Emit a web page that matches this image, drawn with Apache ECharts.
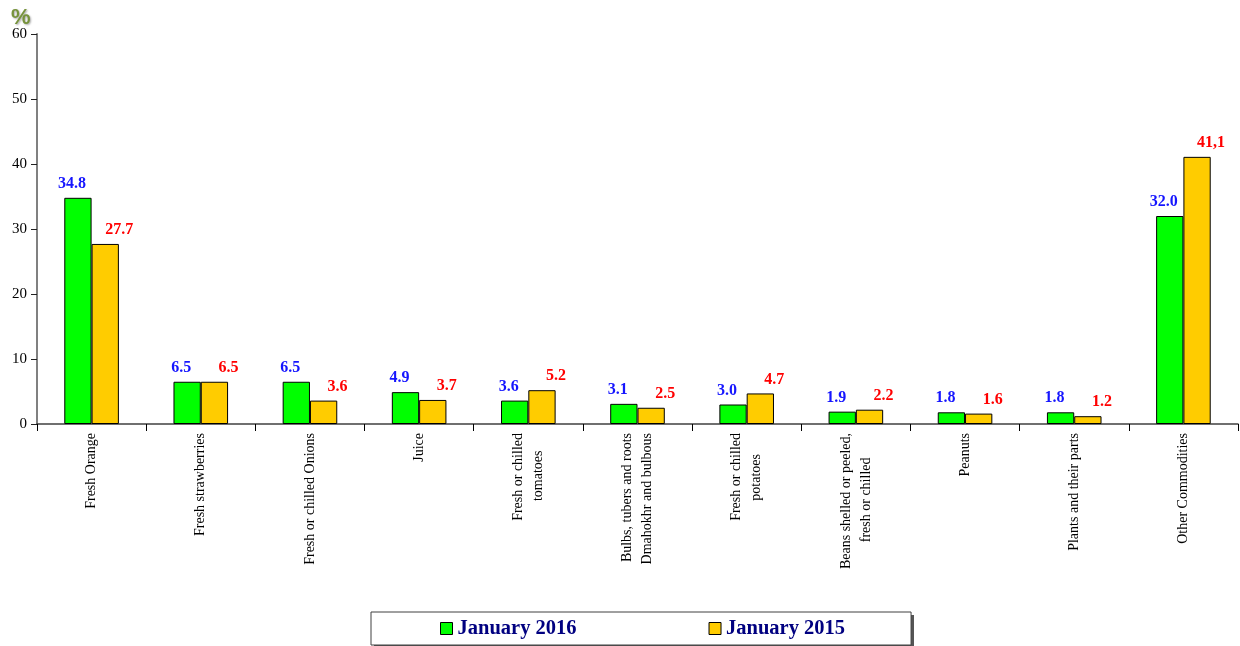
<!DOCTYPE html>
<html lang="en">
<head>
    <meta charset="UTF-8">
    <title>Exports</title>
    <script src="https://cdn.jsdelivr.net/npm/echarts@6/dist/echarts.min.js"></script>
    <style>
        * { margin: 0; padding: 0; }
        body { background-color: #fff; }
        #box1 { width: 1240px; height: 646px; }
    </style>
</head>
<body>
    <div id="box1"></div>
    <script>
        // categories (multi-line names split with \n)
        var categories = [
            'Fresh Orange',
            'Fresh strawberries',
            'Fresh or chilled Onions',
            'Juice',
            'Fresh or chilled\ntomatoes',
            'Bulbs, tubers and roots\nDmahokhr and bulbous',
            'Fresh or chilled\npotatoes',
            'Beans shelled or peeled,\nfresh or chilled',
            'Peanuts',
            'Plants and their parts',
            'Other Commodities'
        ];
        var jan2016 = [34.8, 6.5, 6.5, 4.9, 3.6, 3.1, 3.0, 1.9, 1.8, 1.8, 32.0];
        var jan2015 = [27.7, 6.5, 3.6, 3.7, 5.2, 2.5, 4.7, 2.2, 1.6, 1.2, 41.1];
        // label texts as printed on the chart
        var labels2015 = ['27.7', '6.5', '3.6', '3.7', '5.2', '2.5', '4.7', '2.2', '1.6', '1.2', '41,1'];
        var yTicks = [0, 10, 20, 30, 40, 50, 60];

        var serif = '"Liberation Serif", "Times New Roman", serif';
        var catFont = 14;

        // rotated labels come out right aligned, so push the shorter line
        // of a two-line name away from the axis with trailing nbsp's
        var ctx = document.createElement('canvas').getContext('2d');
        ctx.font = catFont + 'px "Liberation Serif"';
        var nbspW = ctx.measureText('\u00a0').width || 3.5;
        function centreLines(name) {
            var lines = name.split('\n');
            if (lines.length < 2) return name;
            var widths = lines.map(function (s) { return ctx.measureText(s).width; });
            var maxW = Math.max.apply(null, widths);
            return lines.map(function (s, j) {
                var n = Math.round((maxW - widths[j]) / 2 / nbspW);
                return s + new Array(n + 1).join('\u00a0');
            }).join('\n');
        }

        var option = {
            animation: false,
            title: {
                text: '%',
                left: 6,
                top: 2,
                textStyle: {
                    fontFamily: '"Liberation Sans", Arial, sans-serif',
                    fontSize: 22,
                    fontWeight: 'bold',
                    color: '#77933c',
                    textShadowColor: 'rgba(0,0,0,0.35)',
                    textShadowBlur: 2,
                    textShadowOffsetX: 1,
                    textShadowOffsetY: 1
                }
            },
            legend: {
                left: 371,
                top: 612,
                padding: [6, 66, 6, 69],
                itemGap: 132,
                itemWidth: 12,
                itemHeight: 12,
                icon: 'rect',
                backgroundColor: '#fff',
                borderColor: '#404040',
                borderWidth: 1,
                z: 5,
                itemStyle: { borderColor: '#000', borderWidth: 1 },
                textStyle: {
                    fontFamily: serif,
                    fontSize: 20.5,
                    fontWeight: 'bold',
                    color: '#000080'
                }
            },
            // drop shadow of the legend frame
            graphic: [{
                type: 'rect',
                left: 374,
                top: 615,
                z: 1,
                shape: { width: 540, height: 31 },
                style: { fill: '#555' }
            }],
            grid: {
                left: 37,
                right: 2,
                top: 34,
                bottom: 222
            },
            xAxis: {
                type: 'category',
                data: categories,
                axisLine: { lineStyle: { color: '#404040', width: 1.5 } },
                axisTick: { show: true, length: 7, lineStyle: { color: '#000' } },
                axisLabel: {
                    interval: 0,
                    rotate: 90,
                    margin: 9,
                    color: '#000',
                    fontFamily: serif,
                    fontSize: catFont,
                    lineHeight: 20,
                    formatter: function (v) { return centreLines(v); }
                }
            },
            yAxis: {
                type: 'value',
                min: yTicks[0],
                max: yTicks[yTicks.length - 1],
                interval: 10,
                splitLine: { show: false },
                axisLine: { show: true, lineStyle: { color: '#808080', width: 2 } },
                axisTick: { show: true, length: 6, lineStyle: { color: '#222' } },
                axisLabel: {
                    margin: 10,
                    color: '#000',
                    fontFamily: serif,
                    fontSize: 15
                }
            },
            series: [{
                name: 'January 2016',
                type: 'bar',
                data: jan2016,
                barGap: '0%',
                barCategoryGap: '50%',
                itemStyle: { color: '#00ff00', borderColor: '#000', borderWidth: 1 },
                label: {
                    show: true,
                    position: 'top',
                    distance: 6,
                    offset: [-6, 0],
                    color: '#1515ff',
                    fontFamily: serif,
                    fontSize: 16,
                    fontWeight: 'bold',
                    formatter: function (p) { return p.value.toFixed(1); }
                }
            }, {
                name: 'January 2015',
                type: 'bar',
                data: jan2015,
                itemStyle: { color: '#ffcc00', borderColor: '#000', borderWidth: 1 },
                label: {
                    show: true,
                    position: 'top',
                    distance: 6,
                    offset: [14, 0],
                    color: '#ff0000',
                    fontFamily: serif,
                    fontSize: 16,
                    fontWeight: 'bold',
                    formatter: function (p) { return labels2015[p.dataIndex]; }
                }
            }]
        };
        echarts.init(document.querySelector('#box1')).setOption(option);
    </script>
</body>
</html>
